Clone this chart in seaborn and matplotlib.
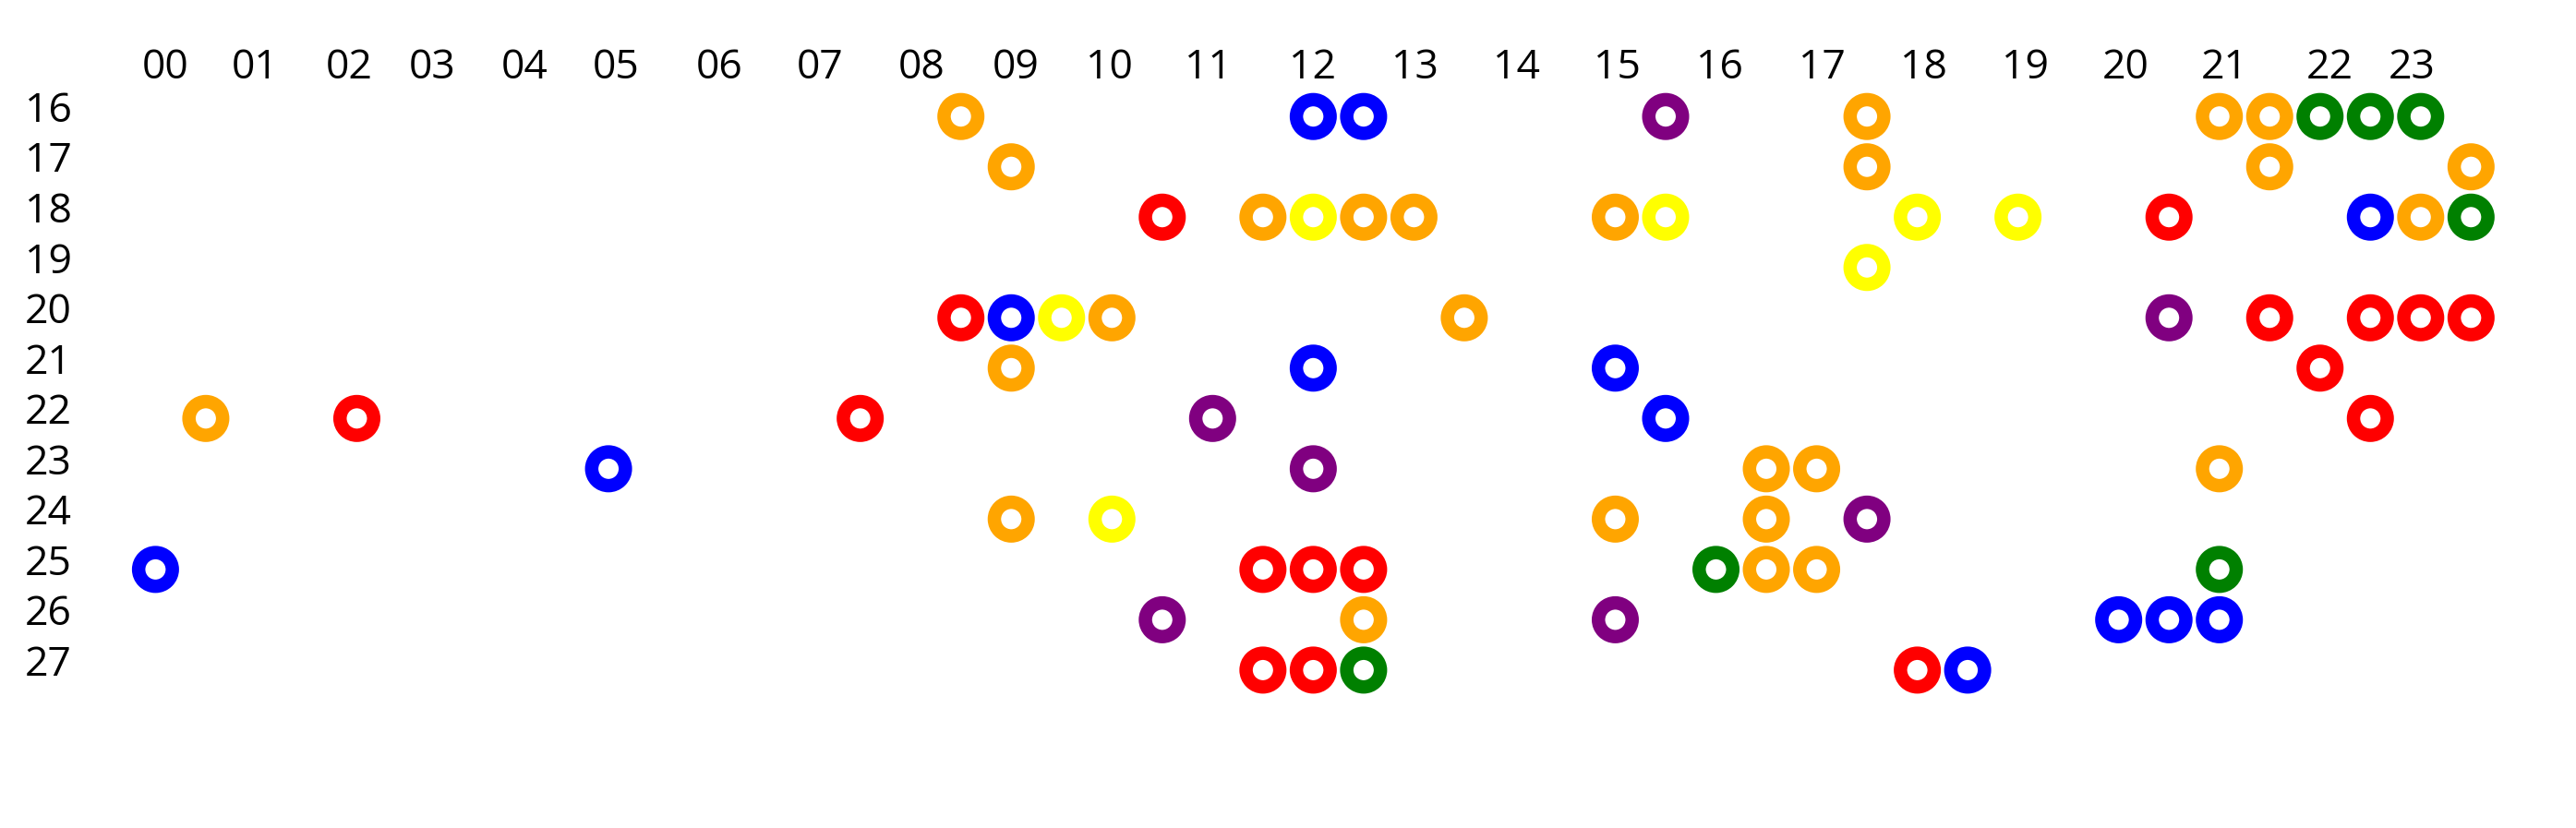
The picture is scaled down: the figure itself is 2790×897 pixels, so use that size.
"""
Ring grid: day (rows) x half-hour slot (columns), coloured by category.
"""

import pandas as pd
import matplotlib
matplotlib.use("Agg")
import matplotlib.pyplot as plt
import matplotlib.transforms as mtransforms
import seaborn as sns

# ── Data ──────────────────────────────────────────────────────────────────────

DAY_LABELS = [16, 17, 18, 19, 20, 21, 22, 23, 24, 25, 26, 27]

HOUR_LABELS = ["00", "01", "02", "03", "04", "05", "06", "07", "08", "09", "10", "11",
               "12", "13", "14", "15", "16", "17", "18", "19", "20", "21", "22", "23"]
# where each hour label sits, in slot units
HOUR_POS = [0.19, 1.97, 3.85, 5.49, 7.33, 9.15, 11.2, 13.21, 15.22, 17.09, 18.94, 20.91,
            22.98, 25.01, 27.04, 29.04, 31.07, 33.10, 35.12, 37.14, 39.14, 41.11, 43.19, 44.83]

ring_day = (
    [16] * 10 + [17] * 4 + [18] * 13 + [19] * 1 + [20] * 10 + [21] * 4
    + [22] * 6 + [23] * 5 + [24] * 5 + [25] * 8 + [26] * 6 + [27] * 5
)
ring_slot = [
    16, 23, 24, 30, 34, 41, 42, 43, 44, 45,                 # 16
    17, 34, 42, 46,                                         # 17
    20, 22, 23, 24, 25, 29, 30, 35, 37, 40, 44, 45, 46,     # 18
    34,                                                     # 19
    16, 17, 18, 19, 26, 40, 42, 44, 45, 46,                 # 20
    17, 23, 29, 43,                                         # 21
    1, 4, 14, 21, 30, 44,                                   # 22
    9, 23, 32, 33, 41,                                      # 23
    17, 19, 29, 32, 34,                                     # 24
    0, 22, 23, 24, 31, 32, 33, 41,                          # 25
    20, 24, 29, 39, 40, 41,                                 # 26
    22, 23, 24, 35, 36,                                     # 27
]
ring_kind = [
    "orange", "blue", "blue", "purple", "orange", "orange", "orange", "green", "green", "green",
    "orange", "orange", "orange", "orange",
    "red", "orange", "yellow", "orange", "orange", "orange", "yellow", "yellow", "yellow",
    "red", "blue", "orange", "green",
    "yellow",
    "red", "blue", "yellow", "orange", "orange", "purple", "red", "red", "red", "red",
    "orange", "blue", "blue", "red",
    "orange", "red", "red", "purple", "blue", "red",
    "blue", "purple", "orange", "orange", "orange",
    "orange", "yellow", "orange", "orange", "purple",
    "blue", "red", "red", "red", "green", "orange", "orange", "green",
    "purple", "orange", "purple", "blue", "blue", "blue",
    "red", "red", "green", "red", "blue",
]

PALETTE = {
    "orange": "#FFA500", "red": "#FF0000", "blue": "#0000FF",
    "yellow": "#FFFF00", "purple": "#800080", "green": "#008000",
}

# ── Layout (pixels) ───────────────────────────────────────────────────────────

W, H, DPI = 2790, 897, 100
AX_LEFT, AX_TOP = 100, 100
X0_PX, Y0_PX, STEP_PX = 168.4, 126.2, 54.52
RING_D_PX, RING_W_PX = 36.5, 14.5
FONT_PT = 32

# ── Plot ──────────────────────────────────────────────────────────────────────

df = pd.DataFrame({"day": ring_day, "slot": ring_slot, "kind": ring_kind})

sns.set_theme(style="white")
plt.rcParams["font.family"] = ["Open Sans", "DejaVu Sans"]

fig = plt.figure(figsize=(W / DPI, H / DPI), dpi=DPI, facecolor="white")
ax = fig.add_axes([AX_LEFT / W, 0, 1 - AX_LEFT / W, 1 - AX_TOP / H])

size_pt = RING_D_PX * 72 / DPI
sns.scatterplot(
    data=df, x="slot", y="day", hue="kind", palette=PALETTE,
    s=size_pt ** 2, linewidth=RING_W_PX * 72 / DPI, legend=False, ax=ax,
)
coll = ax.collections[0]
coll.set_edgecolors(coll.get_facecolors())
coll.set_facecolors("white")

ax.set_xlim(-(X0_PX - AX_LEFT) / STEP_PX, (W - X0_PX) / STEP_PX)
ax.set_ylim(16 + (H - Y0_PX) / STEP_PX, 16 - (Y0_PX - AX_TOP) / STEP_PX)

ax.xaxis.tick_top()
ax.set_xticks(HOUR_POS, HOUR_LABELS)
ax.set_yticks(DAY_LABELS, [str(d) for d in DAY_LABELS])
ax.tick_params(axis="x", length=0, pad=3, labelsize=FONT_PT, labelcolor="black")
ax.tick_params(axis="y", length=0, pad=(AX_LEFT - 27) * 72 / DPI,
               labelsize=FONT_PT, labelcolor="black")

shift = mtransforms.ScaledTranslation(0, 11 / DPI, fig.dpi_scale_trans)
for lab in ax.get_yticklabels():
    lab.set_horizontalalignment("left")
    lab.set_transform(lab.get_transform() + shift)

ax.set_xlabel("")
ax.set_ylabel("")
for spine in ax.spines.values():
    spine.set_visible(False)

fig.savefig("out.png", dpi=DPI, facecolor="white")
